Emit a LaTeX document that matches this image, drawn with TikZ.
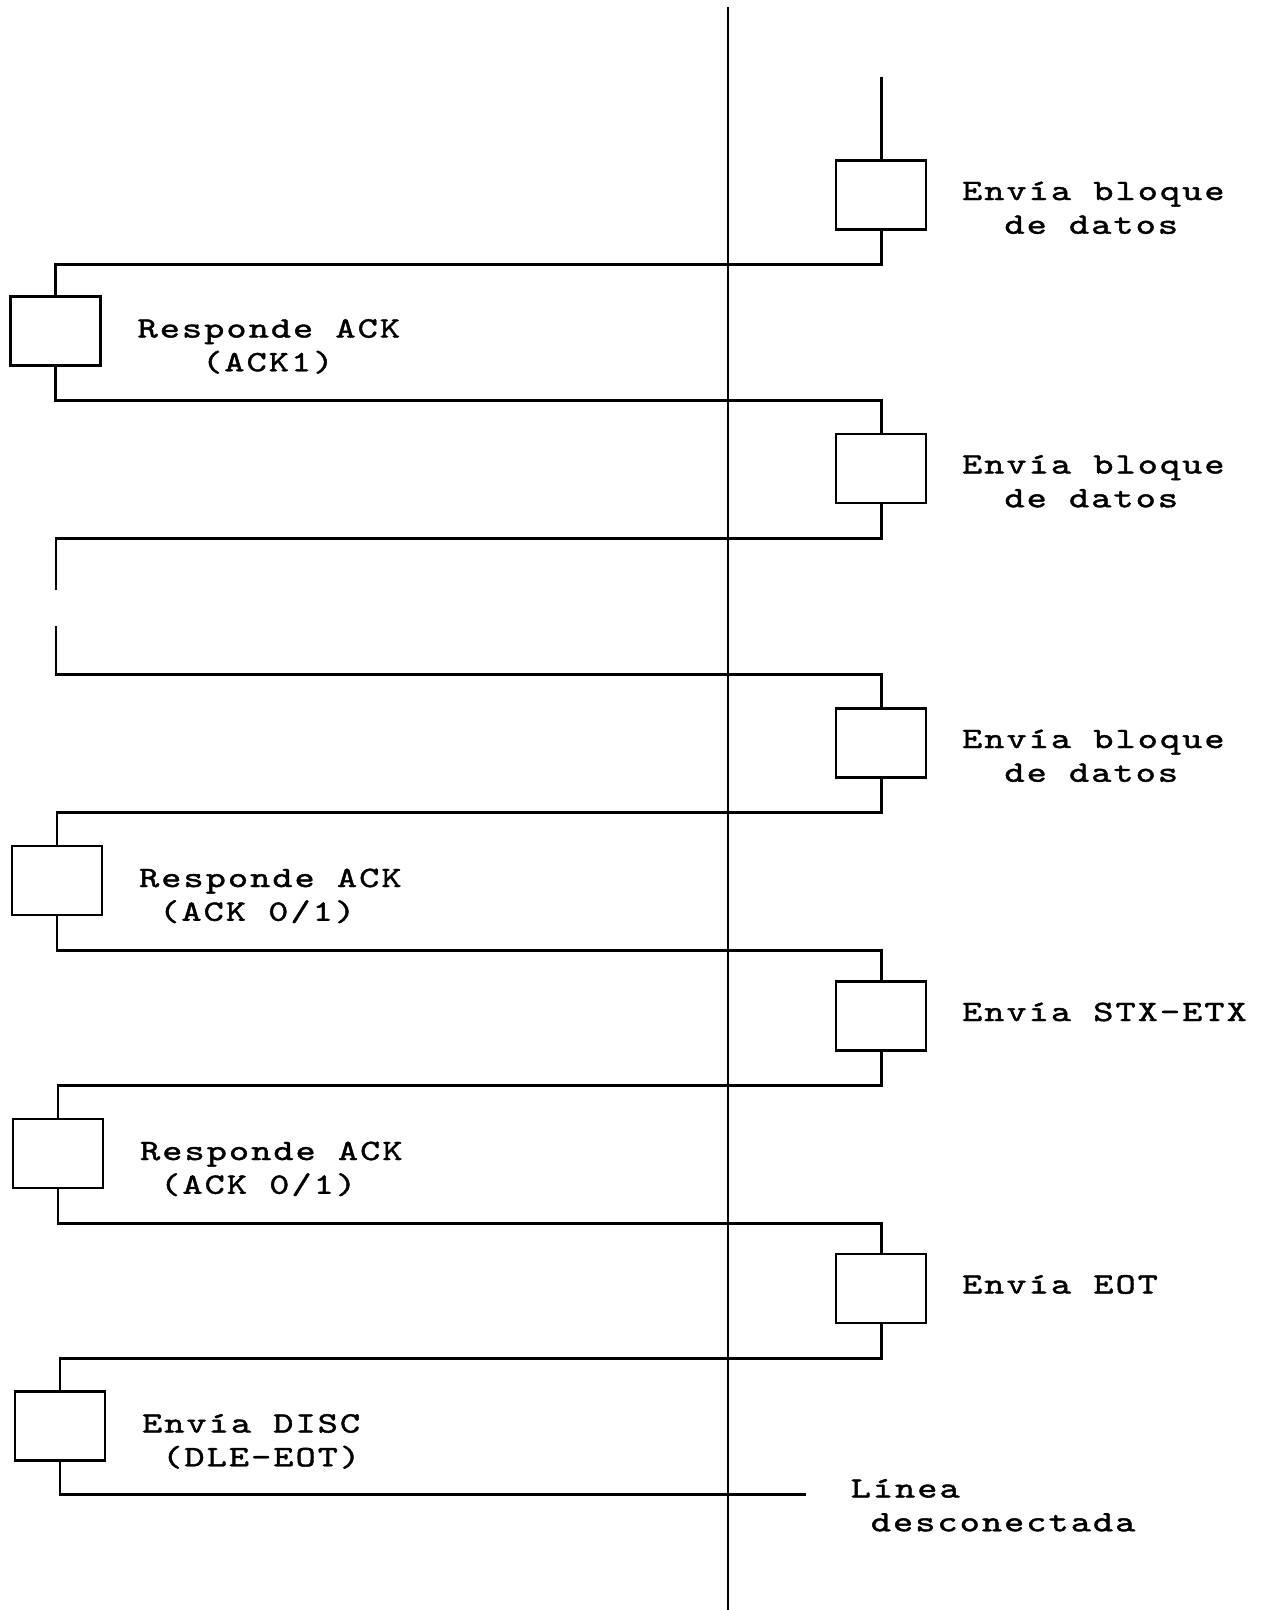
\documentclass[tikz,border=0pt]{standalone}
\usepackage{fontspec}
\newfontfamily\plotfont{lmmono10-regular.otf}[FakeStretch=1.3,LetterSpace=7,FakeBold=1.5]
\usetikzlibrary{positioning}
\tikzset{
  box/.style={draw,line width=0.8pt,minimum width=0.9cm,minimum height=0.69cm,
    inner sep=0pt},
  msg/.style={anchor=base west,align=left,inner sep=0pt,
    font=\plotfont\fontsize{8.4pt}{9.6pt}\selectfont},
  twoline/.style={yshift=-9.6pt},
  rail/.style={line width=0.85pt},
}

\begin{document}
\begin{tikzpicture}
  \useasboundingbox (0,0) rectangle (12.64,-16.10);

  % the line itself
  \coordinate (top) at (7.28,-0.07);
  \coordinate (bot) at (7.28,-16.10);
  \draw[line width=0.55pt] (top) -- (bot);

  % sending station (right)
  \node[box] (r1) at (8.81,-1.95) {};
  \node[box] (r2) at (8.81,-4.685) {};
  \node[box] (r3) at (8.81,-7.43) {};
  \node[box] (r4) at (8.81,-10.16) {};
  \node[box] (r5) at (8.81,-12.885) {};

  % receiving station (left)
  \node[box] (l1) at (0.555,-3.31) {};
  \node[box] (l2) at (0.57,-8.805) {};
  \node[box] (l3) at (0.58,-11.535) {};
  \node[box] (l4) at (0.60,-14.26) {};

  \node[right=0.34cm of r1,msg,yshift=-0.05cm,twoline] (tr1)
    {Envía bloque\\\hphantom{XX}de datos};
  \node[right=0.34cm of r2,msg,yshift=-0.05cm,twoline] (tr2)
    {Envía bloque\\\hphantom{XX}de datos};
  \node[right=0.34cm of r3,msg,yshift=-0.05cm,twoline] (tr3)
    {Envía bloque\\\hphantom{XX}de datos};
  \node[right=0.34cm of r4,msg,yshift=-0.05cm] (tr4) {Envía STX-ETX};
  \node[right=0.34cm of r5,msg,yshift=-0.05cm] (tr5) {Envía EOT};

  \node[right=0.35cm of l1,msg,yshift=-0.065cm,twoline] (tl1)
    {Responde ACK\\\hphantom{XXX}(ACK1)};
  \node[right=0.35cm of l2,msg,yshift=-0.065cm,twoline] (tl2)
    {Responde ACK\\\hphantom{X}(ACK 0/1)};
  \node[right=0.35cm of l3,msg,yshift=-0.065cm,twoline] (tl3)
    {Responde ACK\\\hphantom{X}(ACK 0/1)};
  \node[right=0.35cm of l4,msg,yshift=-0.065cm,twoline] (tl4)
    {Envía DISC\\\hphantom{X}(DLE-EOT)};

  % exchange of blocks and answers
  \coordinate (start) at (8.81,-0.77);
  \draw[rail] (start) -- (r1.north);
  \foreach \a/\b in {r1/l1,l1/r2,r3/l2,l2/r4,r4/l3,l3/r5,r5/l4}{
    \draw[rail] (\a.south) -- ++(0,-0.34) -| (\b.north);
  }

  % no answer: the line is broken on the left
  \coordinate (g1) at (0.56,-5.90);
  \coordinate (g2) at (0.56,-6.26);
  \draw[rail] (r2.south) -- ++(0,-0.34) -| (g1);
  \draw[rail] (g2) -- ++(0,-0.485) -| (r3.north);

  % disconnection
  \coordinate (fin) at (8.06,-14.945);
  \draw[rail] (l4.south) |- (fin);
  \node[right=0.44cm of fin,msg,yshift=-0.03cm,twoline] (tfin)
    {Línea\\\hphantom{X}desconectada};
\end{tikzpicture}
\end{document}
